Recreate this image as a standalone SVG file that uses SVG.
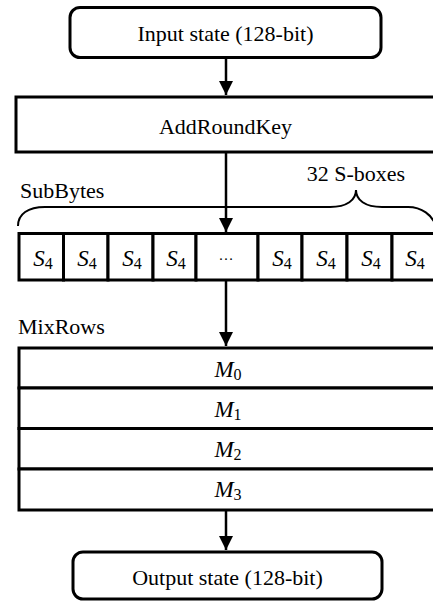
<svg xmlns="http://www.w3.org/2000/svg" width="433" height="602" viewBox="0 0 433 602">
  <style>
    .box { fill: #ffffff; stroke: #000000; stroke-width: 3; }
    .wire { fill: none; stroke: #000000; stroke-width: 2.5; }
    .brace { fill: none; stroke: #000000; stroke-width: 2; }
    .lbl { font-family: 'Liberation Serif', 'DejaVu Serif', serif; font-size: 22px; fill: #000000; }
    .mid { text-anchor: middle; }
    .math { font-family: 'Liberation Serif', 'DejaVu Serif', serif; font-size: 23px; font-style: italic; fill: #000000; text-anchor: middle; }
    .sub { font-style: normal; font-size: 16px; }
    .dots { font-family: 'Liberation Serif', 'DejaVu Serif', serif; font-size: 15px; fill: #000000; text-anchor: middle; }
  </style>
  <defs>
    <marker id="arrowhead" markerUnits="userSpaceOnUse" markerWidth="16" markerHeight="16" viewBox="0 0 16 16" refX="14" refY="8" orient="auto">
      <path d="M0,1 L14,8 L0,15 Z" fill="#000000"/>
    </marker>
  </defs>

  <!-- connectors -->
  <g id="connectors">
    <line class="wire" x1="226" y1="58" x2="226" y2="95" marker-end="url(#arrowhead)"/>
    <line class="wire" x1="226" y1="153" x2="226" y2="232" marker-end="url(#arrowhead)"/>
    <line class="wire" x1="226" y1="281" x2="226" y2="346" marker-end="url(#arrowhead)"/>
    <line class="wire" x1="226" y1="511" x2="226" y2="550" marker-end="url(#arrowhead)"/>
  </g>

  <!-- input -->
  <g id="input-state">
    <rect class="box" x="70" y="7.5" width="311" height="50" rx="10"/>
    <text class="lbl mid" x="225.5" y="41">Input state (128-bit)</text>
  </g>

  <!-- key addition -->
  <g id="add-round-key">
    <rect class="box" x="16" y="97" width="430" height="55"/>
    <text class="lbl mid" x="225.5" y="134">AddRoundKey</text>
  </g>

  <!-- substitution layer -->
  <g id="subbytes">
    <text class="lbl" x="20" y="198">SubBytes</text>
    <text class="lbl mid" x="356" y="181">32 S-boxes</text>
    <path class="brace" d="M18,226 C18,214 28,207 45,207 L330,207 C347,207 356,200 356,190 C356,200 365,207 382,207 L408,207 C422,207 432,215 436,226"/>
    <rect class="box" x="19" y="233.5" width="44.5" height="46.5"/>
    <rect class="box" x="63.5" y="233.5" width="44.5" height="46.5"/>
    <rect class="box" x="108" y="233.5" width="45" height="46.5"/>
    <rect class="box" x="153" y="233.5" width="43" height="46.5"/>
    <rect class="box" x="196" y="233.5" width="62" height="46.5"/>
    <rect class="box" x="258" y="233.5" width="44" height="46.5"/>
    <rect class="box" x="302" y="233.5" width="45" height="46.5"/>
    <rect class="box" x="347" y="233.5" width="45" height="46.5"/>
    <rect class="box" x="392" y="233.5" width="45" height="46.5"/>
    <text class="math" x="43" y="266">S<tspan class="sub" dy="3">4</tspan></text>
    <text class="math" x="87" y="266">S<tspan class="sub" dy="3">4</tspan></text>
    <text class="math" x="132" y="266">S<tspan class="sub" dy="3">4</tspan></text>
    <text class="math" x="176" y="266">S<tspan class="sub" dy="3">4</tspan></text>
    <text class="dots" x="226" y="260">…</text>
    <text class="math" x="282" y="266">S<tspan class="sub" dy="3">4</tspan></text>
    <text class="math" x="326" y="266">S<tspan class="sub" dy="3">4</tspan></text>
    <text class="math" x="371" y="266">S<tspan class="sub" dy="3">4</tspan></text>
    <text class="math" x="415" y="266">S<tspan class="sub" dy="3">4</tspan></text>
  </g>

  <!-- row mixing layer -->
  <g id="mixrows">
    <text class="lbl" x="18" y="334">MixRows</text>
    <rect class="box" x="19" y="348" width="427" height="40"/>
    <rect class="box" x="19" y="388" width="427" height="40.5"/>
    <rect class="box" x="19" y="428.5" width="427" height="40.5"/>
    <rect class="box" x="19" y="469" width="427" height="41"/>
    <text class="math" x="228" y="376.5">M<tspan class="sub" dy="3">0</tspan></text>
    <text class="math" x="228" y="416.5">M<tspan class="sub" dy="3">1</tspan></text>
    <text class="math" x="228" y="457">M<tspan class="sub" dy="3">2</tspan></text>
    <text class="math" x="228" y="497">M<tspan class="sub" dy="3">3</tspan></text>
  </g>

  <!-- output -->
  <g id="output-state">
    <rect class="box" x="73" y="552" width="309" height="47" rx="10"/>
    <text class="lbl mid" x="227.5" y="585">Output state (128-bit)</text>
  </g>
</svg>
